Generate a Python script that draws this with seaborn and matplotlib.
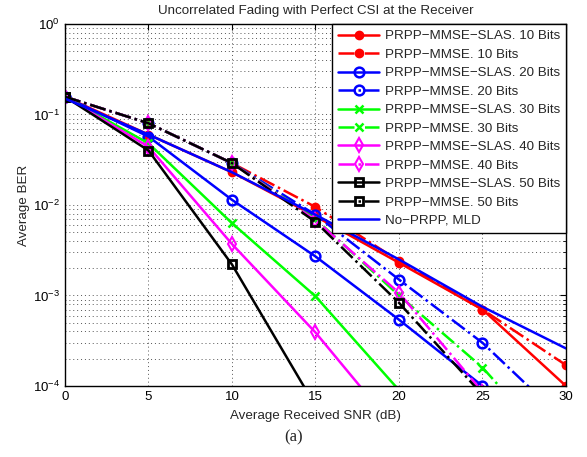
import matplotlib
matplotlib.use('Agg')
import matplotlib.pyplot as plt
import seaborn as sns
import numpy as np

snr = [0, 5, 10, 15, 20, 25, 30]

slas_10 = [0.157, 0.060, 0.023, 0.0075, 0.0023, 0.0007, 0.0001]
mmse_10 = [0.157, 0.080, 0.029, 0.0095, 0.0024, 0.0007, 0.00017]
slas_20 = [0.157, 0.057, 0.0114, 0.0027, 0.00054, 0.0001, 0.00002]
mmse_20 = [0.157, 0.080, 0.029, 0.0078, 0.0015, 0.0003, 0.00004]
slas_30 = [0.157, 0.048, 0.0063, 0.00098, 0.00009]
mmse_30 = [0.157, 0.080, 0.029, 0.0070, 0.0010, 0.00016, 0.000015]
slas_40 = [0.157, 0.044, 0.0037, 0.00039, 0.00003]
mmse_40 = [0.157, 0.080, 0.029, 0.0068, 0.00107, 0.000086]
slas_50 = [0.157, 0.040, 0.0022, 0.00006]
mmse_50 = [0.157, 0.080, 0.029, 0.0065, 0.00083, 0.00008]
mld = [0.150, 0.060, 0.023, 0.0078, 0.0025, 0.00075, 0.00026]

labels = ['PRPP\u2212MMSE\u2212SLAS. 10 Bits', 'PRPP\u2212MMSE. 10 Bits',
          'PRPP\u2212MMSE\u2212SLAS. 20 Bits', 'PRPP\u2212MMSE. 20 Bits',
          'PRPP\u2212MMSE\u2212SLAS. 30 Bits', 'PRPP\u2212MMSE. 30 Bits',
          'PRPP\u2212MMSE\u2212SLAS. 40 Bits', 'PRPP\u2212MMSE. 40 Bits',
          'PRPP\u2212MMSE\u2212SLAS. 50 Bits', 'PRPP\u2212MMSE. 50 Bits',
          'No\u2212PRPP, MLD']


def run():
    sns.set_style('white')
    plt.rcParams['font.family'] = ['Liberation Sans', 'DejaVu Sans']
    plt.rcParams['mathtext.fontset'] = 'custom'
    plt.rcParams['mathtext.rm'] = 'Liberation Sans'

    fig = plt.figure(figsize=(5.87, 4.57), dpi=100)
    ax = fig.add_axes([0.1107, 0.1554, 0.8535, 0.7921])

    series = [
        (slas_10, 'red', '-', 'o', 'red', 1.0, 6),
        (mmse_10, 'red', '-.', 'o', 'red', 1.0, 6),
        (slas_20, 'blue', '-', 'o', 'none', 1.8, 7),
        (mmse_20, 'blue', '-.', 'o', 'none', 1.8, 7),
        (slas_30, 'lime', '-', 'x', 'none', 1.8, 6),
        (mmse_30, 'lime', '-.', 'x', 'none', 1.8, 6),
        (slas_40, 'magenta', '-', 'd', 'none', 1.5, 7),
        (mmse_40, 'magenta', '-.', 'd', 'none', 1.5, 7),
        (slas_50, 'black', '-', 's', 'none', 2.0, 6),
        (mmse_50, 'black', '-.', 's', 'none', 2.0, 6),
        (mld, 'blue', '-', None, 'none', 1.0, 0),
    ]
    for (vals, col, ls, mk, mfc, mew, ms), lab in zip(series, labels):
        sns.lineplot(x=snr[:len(vals)], y=vals, ax=ax, color=col, linestyle=ls,
                     marker=mk, markerfacecolor=mfc, markeredgecolor=col,
                     markeredgewidth=mew, markersize=ms, linewidth=1.8,
                     label=lab, clip_on=True)

    ax.set_yscale('log')
    ax.set_xlim(0, 30)
    ax.set_ylim(1e-4, 1)
    ax.set_xticks([0, 5, 10, 15, 20, 25, 30])
    ax.xaxis.set_minor_locator(matplotlib.ticker.NullLocator())
    ax.grid(True, which='major', linestyle=(0, (1, 3)), color='#555555', linewidth=0.7)
    ax.yaxis.grid(True, which='minor', linestyle=(0, (1, 3)), color='#555555', linewidth=0.7)
    ax.tick_params(direction='in', which='both', top=True, right=True,
                   labelsize=9.5, colors='black')
    ax.tick_params(which='major', length=4)
    ax.tick_params(which='minor', length=2)
    for sp in ax.spines.values():
        sp.set_color('black')
        sp.set_linewidth(1.0)

    ax.set_title('Uncorrelated Fading with Perfect CSI at the Receiver', fontsize=9.6, pad=7)
    ax.set_xlabel('Average Received SNR (dB)', fontsize=9.6, labelpad=5)
    ax.set_ylabel('Average BER', fontsize=9.6, labelpad=2)

    leg = ax.legend(loc='upper right', borderaxespad=0, fontsize=9.6, frameon=True,
                    fancybox=False, framealpha=1, edgecolor='black',
                    handlelength=3.1, handletextpad=0.4, labelspacing=0.46, borderpad=0.45)
    leg.get_frame().set_linewidth(1.0)

    fig.text(0.5, 0.043, '(a)', ha='center', va='center', fontsize=12,
             family='Liberation Serif')
    fig.savefig('out.png', dpi=100)


if __name__ == '__main__':
    run()
